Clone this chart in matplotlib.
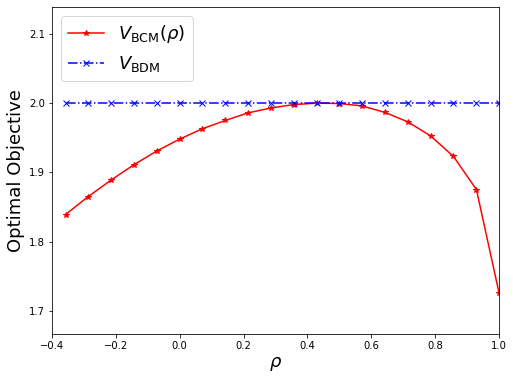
import numpy as np
import matplotlib.pyplot as plt

# rho grid and objective values
rho = [-0.357, -0.286, -0.214, -0.143, -0.071, 0.0, 0.071, 0.143, 0.214, 0.286,
       0.357, 0.429, 0.5, 0.571, 0.643, 0.714, 0.786, 0.857, 0.929, 1.0]
v_bcm = [1.839, 1.865, 1.889, 1.911, 1.931, 1.948, 1.963, 1.975, 1.986, 1.993,
         1.998, 2.0, 1.9995, 1.996, 1.9866, 1.973, 1.9525, 1.923, 1.875, 1.725]
v_bdm = [2.0] * len(rho)

fig = plt.figure(figsize=(513 / 72, 379 / 72), dpi=72)
ax = fig.add_axes([0.101, 0.1187, 0.872, 0.8628])

ax.plot(rho, v_bcm, 'r-*', label=r'$V_{\rm BCM}(\rho)$')
ax.plot(rho, v_bdm, 'b-.x', label=r'$V_{\rm BDM}$')

ax.set_xlim(-0.4, 1.0)
ax.set_ylim(1.6663, 2.139)
ax.set_yticks([1.7, 1.8, 1.9, 2.0, 2.1])
ax.set_xlabel(r'$\rho$', fontsize=18)
ax.set_ylabel('Optimal Objective', fontsize=18)
ax.legend(loc='upper left', fontsize=18)

fig.savefig('out.png', dpi=72)
